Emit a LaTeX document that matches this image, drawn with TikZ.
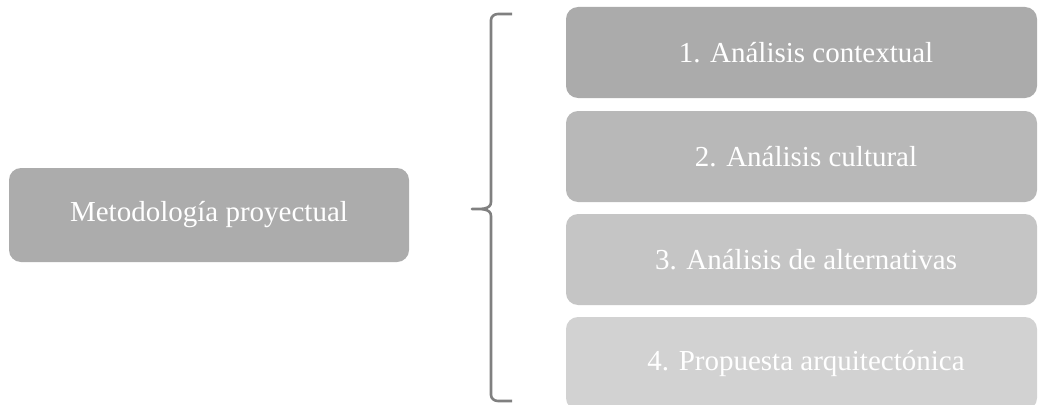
\documentclass[tikz,border=0pt]{standalone}
\usepackage{fontspec}
\setmainfont{Liberation Serif}
\definecolor{cmain}{HTML}{ACACAC}
\definecolor{cone}{HTML}{ABABAB}
\definecolor{ctwo}{HTML}{B8B8B8}
\definecolor{cthree}{HTML}{C5C5C5}
\definecolor{cfour}{HTML}{D2D2D2}
\definecolor{cbrace}{HTML}{808080}
\begin{document}
\begin{tikzpicture}[x=1pt,y=-1pt,
  box/.style={rounded corners=12pt, text=white, font=\fontsize{29}{34}\selectfont},
  bracestyle/.style={draw=cbrace, line width=2.6pt, line join=round}]
\useasboundingbox (0,0) rectangle (1040,404);
\fill[white] (0,0) rectangle (1040,404);
\begin{scope}
\clip (0,0) rectangle (1040,404);
\fill[cmain, rounded corners=12pt] (9,168) rectangle (409,262);
\node[text=white, font=\fontsize{29}{34}\selectfont] (main) at (209,215) {Metodología proyectual};
\fill[cone, rounded corners=12pt] (566,7) rectangle (1037,98);
\node[text=white, font=\fontsize{29}{34}\selectfont] (s1) at (806,53) {1. Análisis contextual};
\fill[ctwo, rounded corners=12pt] (566,111) rectangle (1037,202);
\node[text=white, font=\fontsize{29}{34}\selectfont] (s2) at (806,157) {2. Análisis cultural};
\fill[cthree, rounded corners=12pt] (566,214) rectangle (1037,305);
\node[text=white, font=\fontsize{29}{34}\selectfont] (s3) at (806,260) {3. Análisis de alternativas};
\fill[cfour, rounded corners=12pt] (566,317) rectangle (1037,410);
\node[text=white, font=\fontsize{29}{34}\selectfont] (s4) at (806,363) {4. Propuesta arquitectónica};
\end{scope}
\coordinate (bt) at (512,14);
\coordinate (bm) at (472,209);
\coordinate (bb) at (512,401);
\draw[bracestyle] (bt) -- (498,14) to[out=180,in=90] (491,20) -- (491,202)
  to[out=-90,in=0] (bm) to[out=0,in=90] (491,216) -- (491,395)
  to[out=-90,in=180] (498,401) -- (bb);
\end{tikzpicture}
\end{document}
